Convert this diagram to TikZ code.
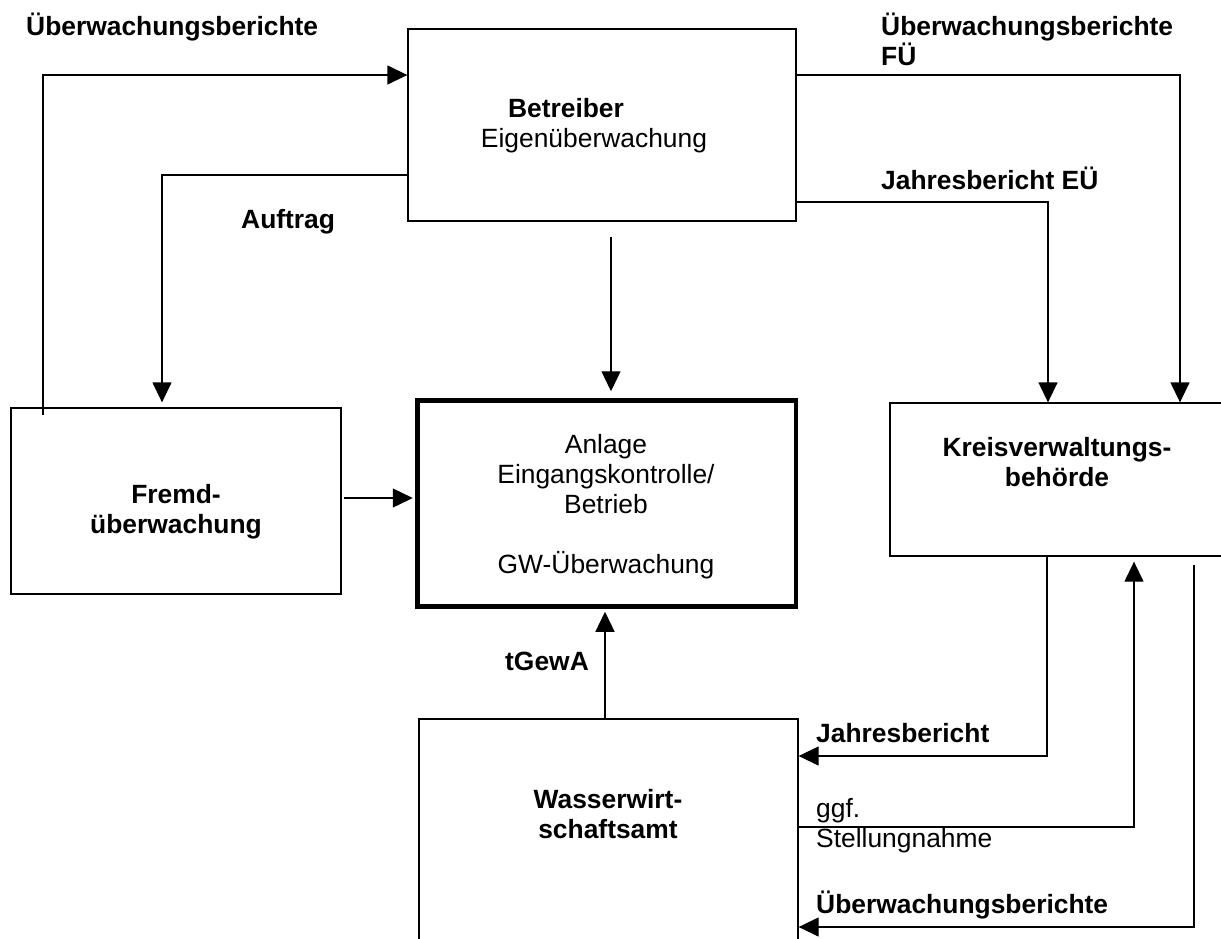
\documentclass[tikz,border=0pt]{standalone}
\usepackage{fontspec}
\setmainfont{Liberation Sans}
\usetikzlibrary{arrows.meta}
\newcommand\diafs{\fontsize{26.4}{30}\selectfont}
\begin{document}
\begin{tikzpicture}[x=1pt,y=-1pt,
  box/.style={draw, line width=1.3pt, inner sep=0pt},
  thickbox/.style={draw, line width=4.5pt, inner sep=0pt},
  arr/.style={line width=1.3pt, -{Triangle[length=20pt,width=19pt]}},
  lbl/.style={font=\diafs\bfseries, inner sep=0pt, anchor=base west},
  txt/.style={font=\diafs, inner sep=0pt, anchor=base west},
  btxt/.style={font=\diafs\bfseries, inner sep=0pt, anchor=base, align=center},
  ntxt/.style={font=\diafs, inner sep=0pt, anchor=base, align=center}]
\useasboundingbox (0,0) rectangle (1221,938);
\clip (0,0) rectangle (1221,938);

% boxes
\node[box, minimum width=388pt, minimum height=192pt] (bet) at (602,125) {};
\node[box, minimum width=330pt, minimum height=186pt] (fremd) at (176,501) {};
\node[thickbox, minimum width=378.5pt, minimum height=206pt] (anl) at (606.75,503.5) {};
\node[box, minimum width=345pt, minimum height=153pt] (kreis) at (1062.5,479.5) {};
\node[box, minimum width=379pt, minimum height=241pt] (wss) at (608.5,839.5) {};

% box texts (base = baseline of last line)
\node[btxt] (tbet) at (566,117) {Betreiber};
\node[ntxt] (teig) at (594,147) {Eigenüberwachung};
\node[btxt] (tfremd) at (176,533) {Fremd-\\überwachung};
\node[ntxt] (tanl) at (606,573) {Anlage\\Eingangskontrolle/\\Betrieb\\[30pt]GW-Überwachung};
\node[btxt] (tkreis) at (1057,486) {Kreisverwaltungs-\\behörde};
\node[btxt] (twss) at (608,838) {Wasserwirt-\\schaftsamt};

% labels
\node[lbl] (lTL) at (26,35) {Überwachungsberichte};
\node[lbl, align=left] (lTR) at (881,65) {Überwachungsberichte\\FÜ};
\node[lbl] (lJE) at (881,189) {Jahresbericht EÜ};
\node[lbl] (lAuf) at (241,228) {Auftrag};
\node[lbl] (lTG) at (505,670) {tGewA};
\node[lbl] (lJB) at (816,742) {Jahresbericht};
\node[txt, align=left] (lGS) at (816,847) {ggf.\\Stellungnahme};
\node[lbl] (lUB) at (816,913) {Überwachungsberichte};

% helper coordinates
\coordinate (c1) at (43,415);
\coordinate (c1y) at (43,75);
\coordinate (auf) at (162,175);
\coordinate (b1) at (611,237);
\coordinate (f1) at (344,498);
\coordinate (fu2) at (1180,75);
\coordinate (je) at (1048,202);
\coordinate (tg) at (605,0);
\coordinate (j1) at (1047,756);
\coordinate (g1) at (1134,827);
\coordinate (u1) at (1194,565);
\coordinate (u2) at (1194,927);

% connectors
\draw[arr] (c1) -- (c1y) -- (c1y -| bet.west);
\draw[arr, shorten >=5pt] (bet.west |- auf) -- (auf) -- (auf |- fremd.north);
\draw[arr, shorten >=7pt] (b1) -- (b1 |- anl.north);
\draw[arr, shorten >=2.5pt] (f1) -- (f1 -| anl.west);
\draw[arr] (bet.east |- fu2) -- (fu2) -- (fu2 |- kreis.north);
\draw[arr] (bet.east |- je) -- (je) -- (je |- kreis.north);
\draw[arr, shorten >=3pt] (tg |- wss.north) -- (tg |- anl.south);
\draw[arr] (j1 |- kreis.south) -- (j1) -- (j1 -| wss.east);
\draw[arr, shorten >=5pt] (g1 -| wss.east) -- (g1) -- (g1 |- kreis.south);
\draw[arr] (u1) -- (u2) -- (u2 -| wss.east);
\end{tikzpicture}
\end{document}
